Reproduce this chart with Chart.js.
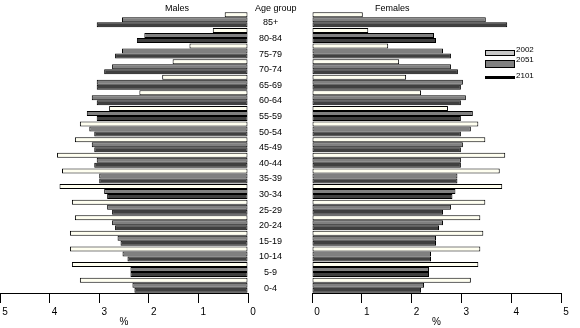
<!DOCTYPE html>
<html>
<head>
<meta charset="utf-8">
<script src="https://cdn.jsdelivr.net/npm/chart.js@4"></script>
<style>
  body { margin: 0; background: #fff; font-family: "Liberation Sans", Arial, sans-serif; }
  #wrap { position: relative; width: 580px; height: 328px; overflow: hidden; }
  canvas { position: absolute; top: 0; }
  .lbl { position: absolute; font-size: 9px; color: #000; white-space: nowrap; }
  .sw { position: absolute; border: 1px solid #000; box-sizing: border-box; }
</style>
</head>
<body>
<div id="wrap">
  <canvas id="males" width="312" height="328" style="left:0;width:312px;height:328px"></canvas>
  <canvas id="females" width="290" height="328" style="left:290px;width:290px;height:328px"></canvas>
  <div class="lbl" style="left:165px;top:3px">Males</div>
  <div class="lbl" style="left:255px;top:3px">Age group</div>
  <div class="lbl" style="left:375px;top:3px">Females</div>
  <div id="legend"></div>
</div>
<script>
const ageGroups = ["85+", "80-84", "75-79", "70-74", "65-69", "60-64", "55-59", "50-54", "45-49",
  "40-44", "35-39", "30-34", "25-29", "20-24", "15-19", "10-14", "5-9", "0-4"];

const years = ["2002", "2051", "2101"];

const males2002 = [0.47, 0.71, 1.18, 1.52, 1.73, 2.19, 2.80, 3.39, 3.49, 3.85, 3.75, 3.80, 3.55, 3.49, 3.59, 3.59, 3.55, 3.39];
const males2051 = [2.54, 2.09, 2.54, 2.74, 3.05, 3.15, 3.25, 3.20, 3.15, 3.05, 3.00, 2.90, 2.84, 2.74, 2.63, 2.53, 2.37, 2.33];
const males2101 = [3.05, 2.24, 2.68, 2.90, 3.05, 3.05, 3.05, 3.10, 3.10, 3.10, 3.00, 2.84, 2.74, 2.68, 2.57, 2.43, 2.37, 2.29];

const females2002 = [1.02, 1.13, 1.53, 1.75, 1.89, 2.19, 2.73, 3.34, 3.48, 3.88, 3.77, 3.82, 3.48, 3.38, 3.44, 3.38, 3.34, 3.19];
const females2051 = [3.49, 2.45, 2.63, 2.79, 3.03, 3.09, 3.23, 3.19, 3.03, 2.99, 2.92, 2.88, 2.79, 2.63, 2.49, 2.39, 2.35, 2.25];
const females2101 = [3.92, 2.49, 2.79, 2.93, 2.99, 2.99, 2.99, 2.99, 2.99, 2.99, 2.92, 2.82, 2.63, 2.55, 2.49, 2.39, 2.35, 2.19];

const axisTicks = [0, 1, 2, 3, 4, 5];

const fills = ["#fffff0", "#808080", "#404040"];
const legendFills = ["#c8c8c8", "#808080", "#000000"];

Chart.defaults.font.family = '"Liberation Sans", Arial, sans-serif';
Chart.defaults.font.size = 10;
Chart.defaults.color = "#000";
Chart.defaults.animation = false;

function makeDatasets(series) {
  return series.map((data, i) => ({
    label: years[i],
    data: data,
    backgroundColor: fills[i],
    borderColor: "#000",
    borderWidth: 1,
    borderSkipped: false,
    categoryPercentage: 0.96,
    barPercentage: 1
  }));
}

function xScale(reverse) {
  return {
    type: "linear",
    min: 0,
    max: 5,
    reverse: reverse,
    afterBuildTicks: s => { s.ticks = axisTicks.map(v => ({ value: v })); },
    ticks: { labelOffset: 5, padding: 3, font: { size: 10 } },
    grid: { drawOnChartArea: false, color: "#000", tickLength: 10 },
    border: { color: "#000", width: 1 },
    title: { display: true, text: "%", padding: { top: 3, bottom: 0 }, font: { size: 10 } },
    afterFit: s => { s.height = 35; }
  };
}

new Chart(document.getElementById("males"), {
  type: "bar",
  data: { labels: ageGroups, datasets: makeDatasets([males2002, males2051, males2101]) },
  options: {
    indexAxis: "y",
    responsive: false,
    layout: { padding: { left: 0, right: 0, top: 12, bottom: 0 } },
    plugins: { legend: { display: false }, tooltip: { enabled: false } },
    scales: {
      x: xScale(true),
      y: {
        position: "right",
        ticks: { crossAlign: "center", labelOffset: 3, font: { size: 9 } },
        grid: { display: false },
        border: { display: false },
        afterFit: s => { s.width = 64; }
      }
    }
  }
});

new Chart(document.getElementById("females"), {
  type: "bar",
  data: { labels: ageGroups, datasets: makeDatasets([females2002, females2051, females2101]) },
  options: {
    indexAxis: "y",
    responsive: false,
    layout: { padding: { left: 22, right: 19, top: 12, bottom: 0 } },
    plugins: { legend: { display: false }, tooltip: { enabled: false } },
    scales: {
      x: xScale(false),
      y: { display: false }
    }
  }
});

// legend (built from the year list)
const legend = document.getElementById("legend");
const swatchTop = [50, 60, 76];
const swatchH = [6, 8, 3];
years.forEach((y, i) => {
  const sw = document.createElement("div");
  sw.className = "sw";
  sw.style.cssText = `left:485px;top:${swatchTop[i]}px;width:30px;height:${swatchH[i]}px;background:${legendFills[i]}`;
  legend.appendChild(sw);
  const t = document.createElement("div");
  t.className = "lbl";
  t.style.cssText = `left:516px;top:${swatchTop[i] - 5}px;font-size:8px`;
  t.textContent = y;
  legend.appendChild(t);
});
</script>
</body>
</html>
